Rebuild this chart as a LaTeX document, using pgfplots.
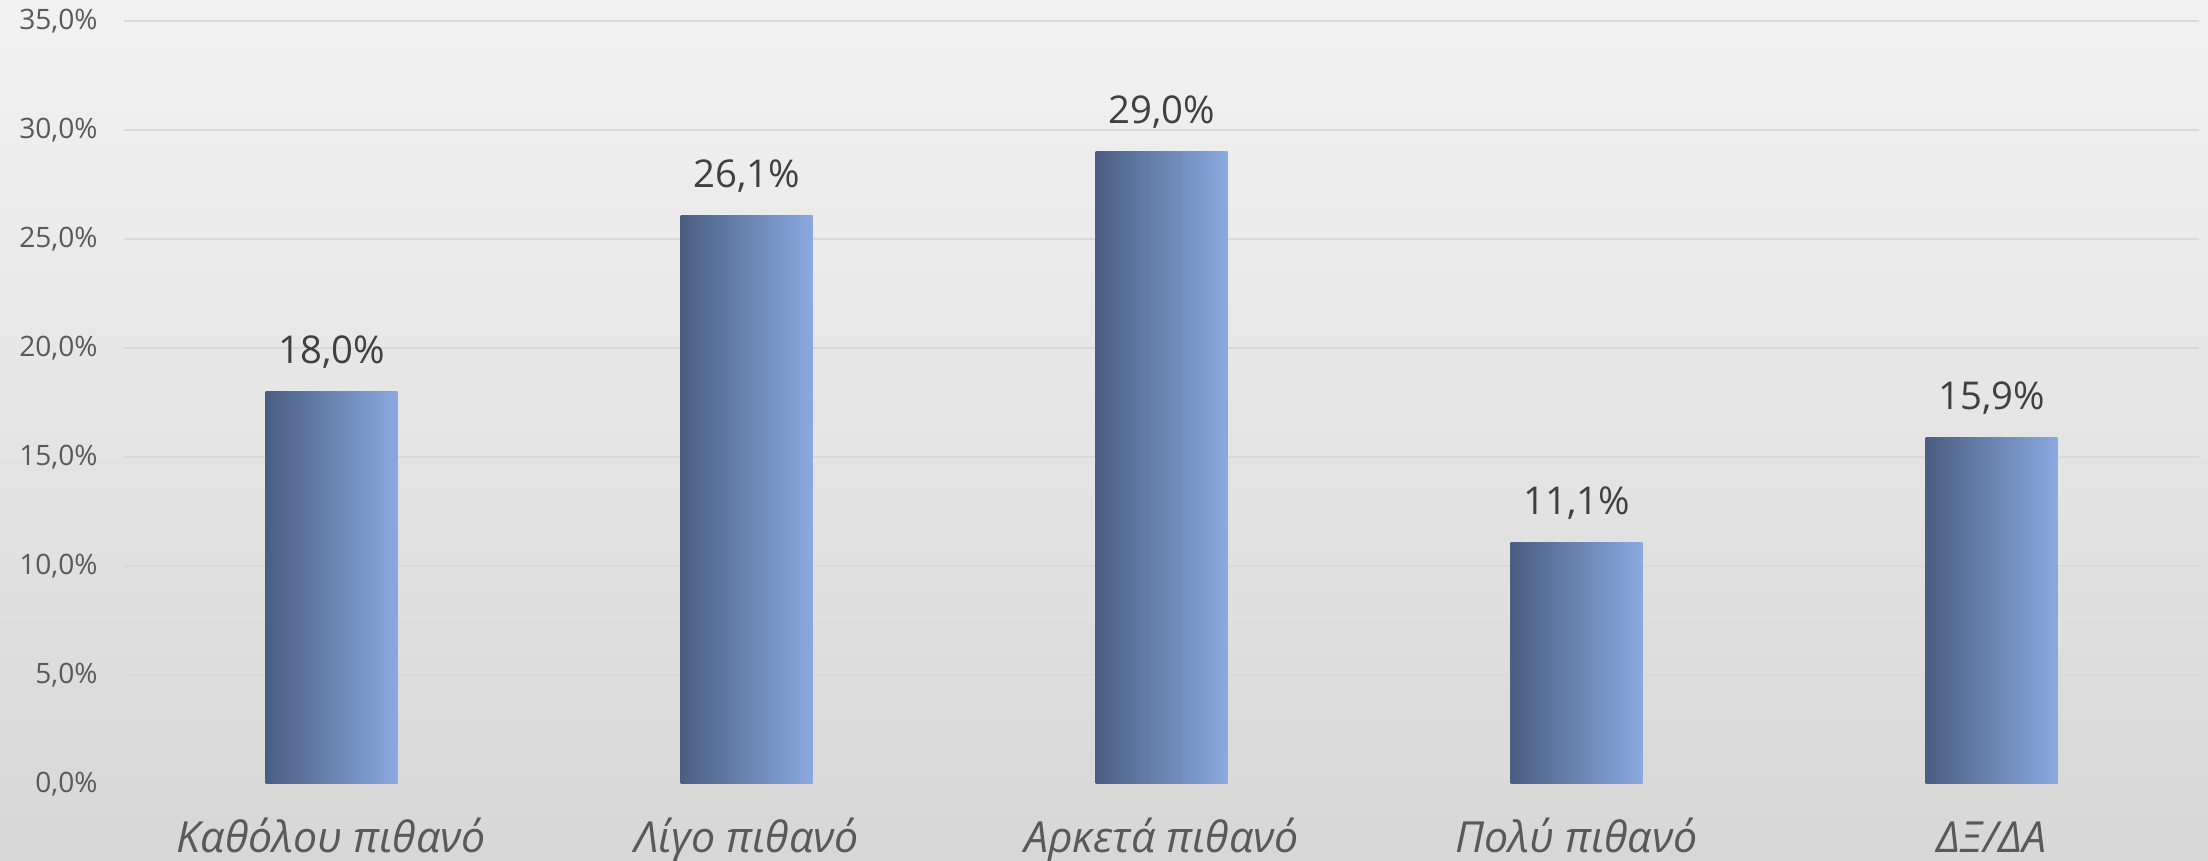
\documentclass[border=0pt]{standalone}
\usepackage{pgfplots}
\pgfplotsset{compat=1.18}
\usepackage{fontspec}
\setmainfont{Open Sans}
\definecolor{bgtop}{HTML}{F2F2F2}
\definecolor{bgbot}{HTML}{D7D7D7}
\definecolor{gridc}{HTML}{D9D9D9}
\definecolor{ticktxt}{HTML}{595959}
\definecolor{lbltxt}{HTML}{404040}
\definecolor{barL}{HTML}{4A5E82}
\definecolor{barR}{HTML}{8AA9E0}
\begin{document}
\begin{tikzpicture}[x=1cm,y=1cm]
\useasboundingbox (0,0) rectangle (22.08,8.60);
\shade[top color=bgtop, bottom color=bgbot] (0,0) rectangle (22.08,8.60);
\begin{axis}[
  at={(1.24cm,0.76cm)}, anchor=south west, scale only axis,
  width=20.75cm, height=7.63cm,
  xmin=-0.5, xmax=4.5, ymin=0, ymax=35,
  axis line style={draw=none}, major tick length=0pt,
  ymajorgrids, grid style={draw=gridc, line width=0.6pt},
  ytick={0,5,10,15,20,25,30,35},
  /pgf/number format/assume math mode=true,
  yticklabel={\pgfmathprintnumber[fixed,fixed zerofill,precision=1,use comma]{\tick}\%},
  yticklabel style={font=\fontsize{8}{9}\selectfont, text=ticktxt, anchor=east, xshift=-0.14cm},
  xtick={0,1,2,3,4},
  xticklabels={Καθόλου πιθανό, Λίγο πιθανό, Αρκετά πιθανό, Πολύ πιθανό, ΔΞ/ΔΑ},
  xticklabel style={font=\fontsize{12.2}{14}\selectfont\itshape, text=ticktxt, anchor=base, yshift=-0.69cm},
  nodes near coords={\pgfmathprintnumber[fixed,fixed zerofill,precision=1,use comma,assume math mode=true]{\pgfplotspointmeta}\%},
  every node near coord/.append style={font=\fontsize{10.9}{13}\selectfont, text=lbltxt, anchor=base, yshift=0.28cm},
  clip=false,
  mybar/.style={ybar, bar width=1.32cm, bar shift=0pt, draw=none, left color=barL, right color=barR},
]
\addplot[mybar] coordinates {(0,18.0)};
\addplot[mybar] coordinates {(1,26.1)};
\addplot[mybar] coordinates {(2,29.0)};
\addplot[mybar] coordinates {(3,11.1)};
\addplot[mybar] coordinates {(4,15.9)};
\end{axis}
\end{tikzpicture}
\end{document}
